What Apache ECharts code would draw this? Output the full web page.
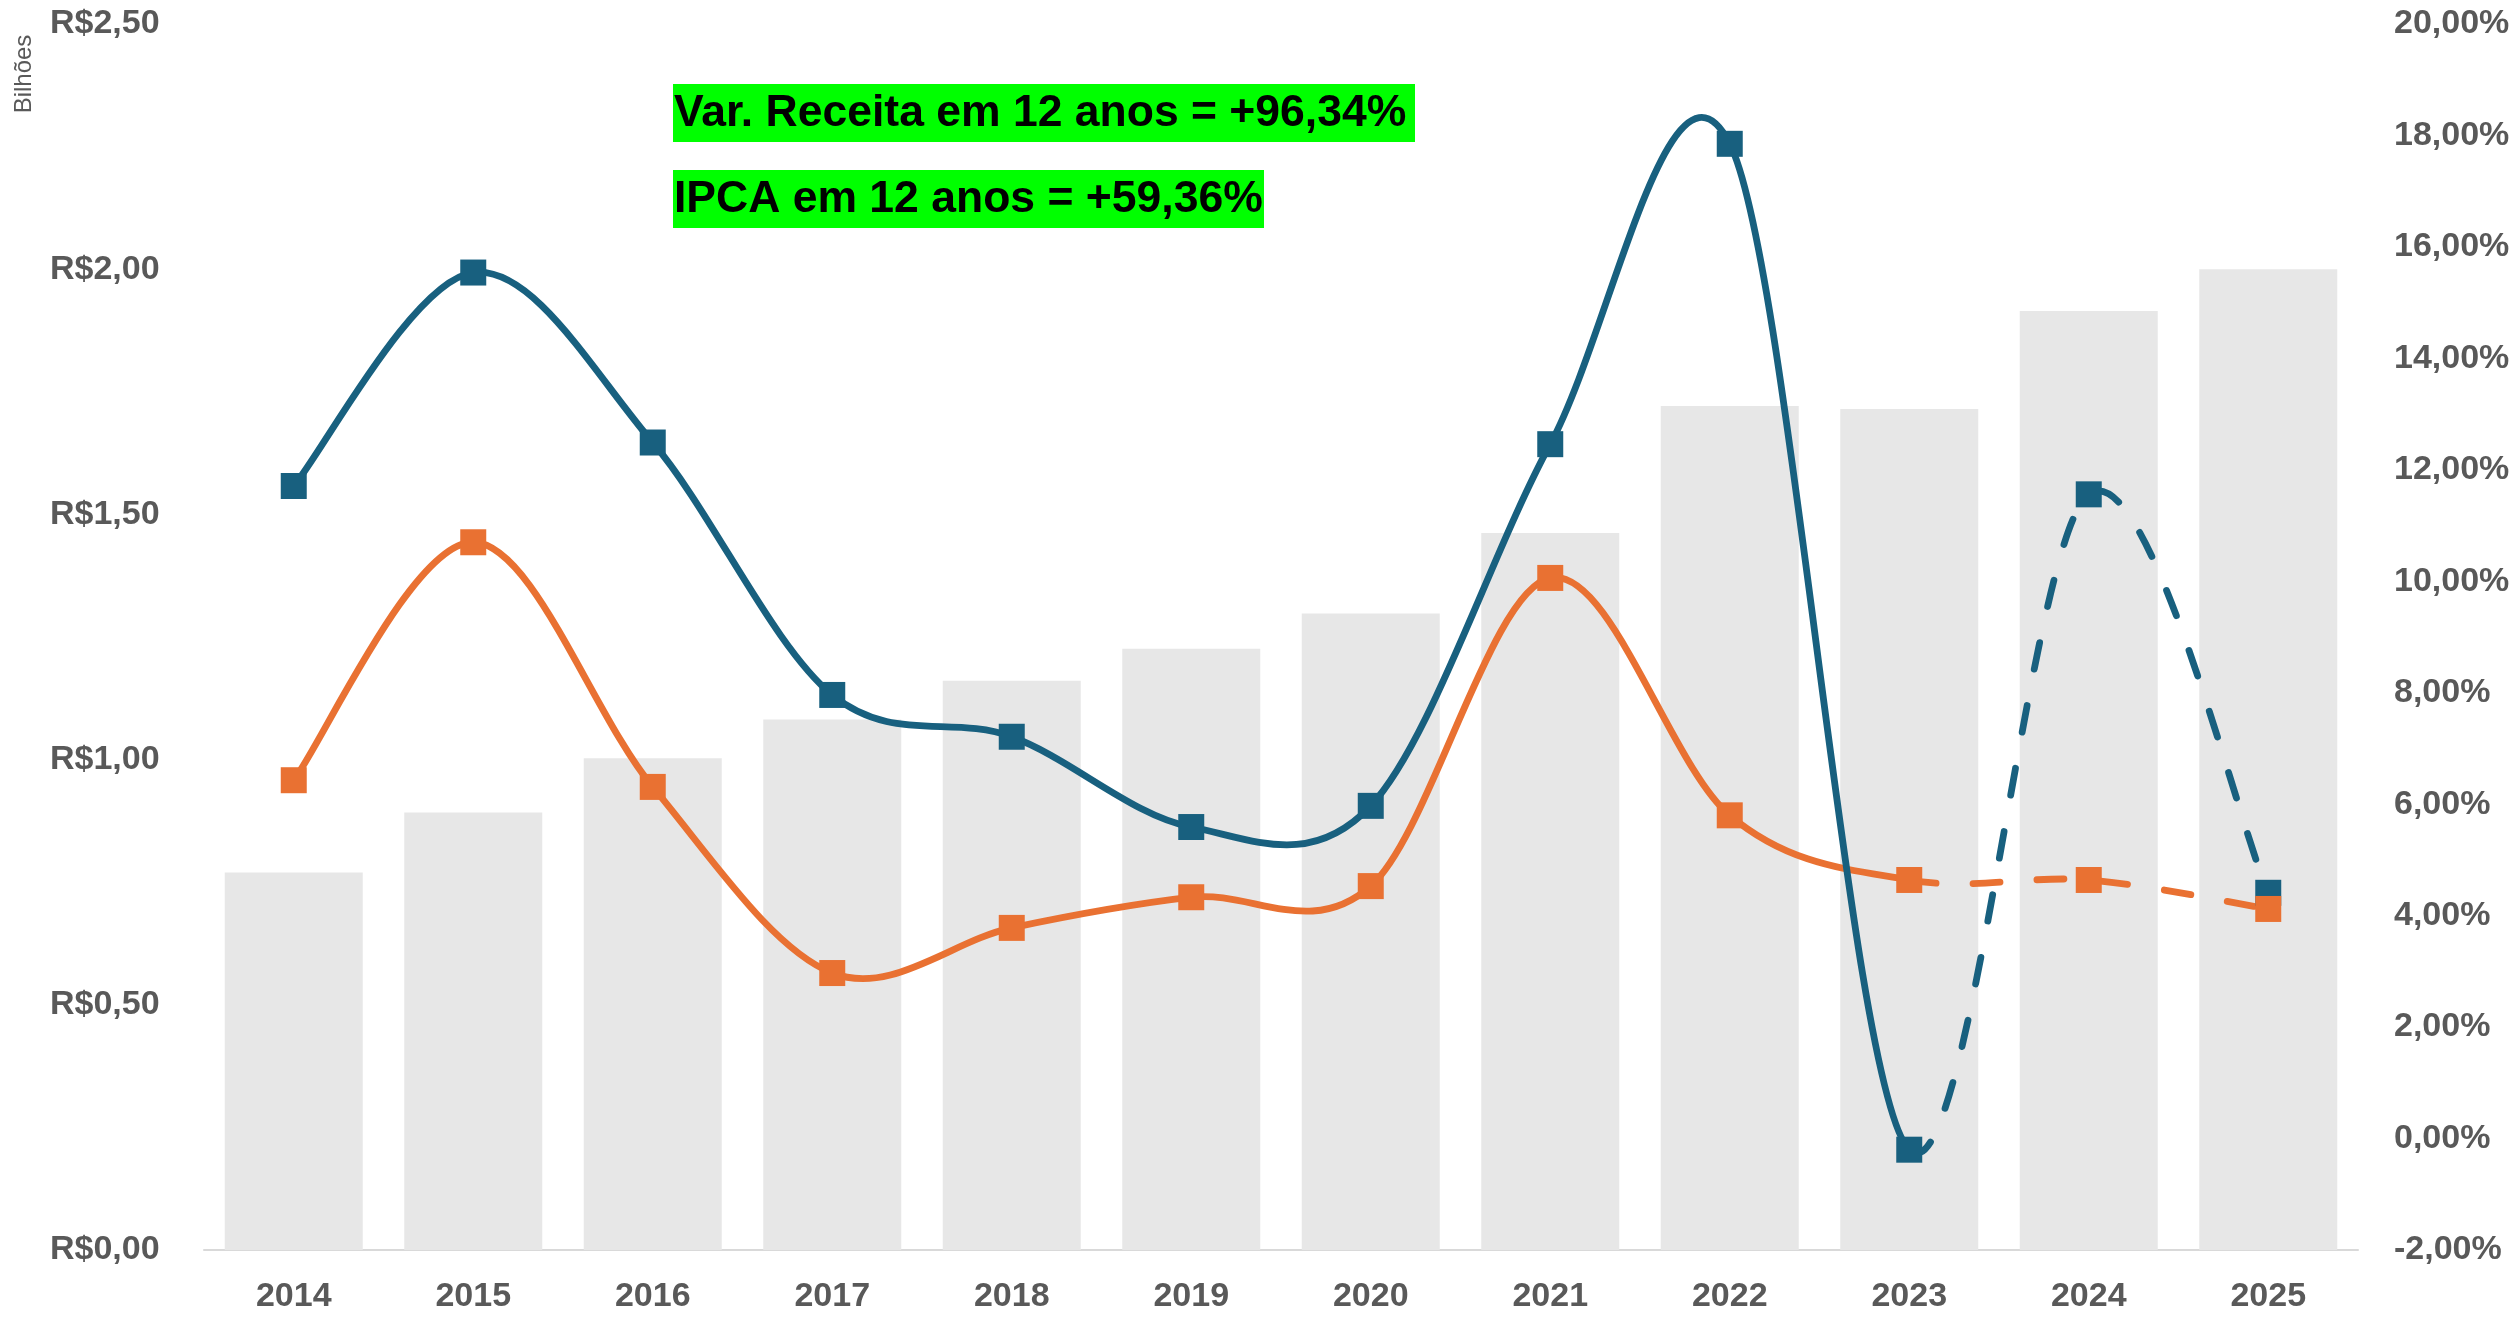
<!DOCTYPE html>
<html>
<head>
<meta charset="utf-8">
<script src="https://cdn.jsdelivr.net/npm/echarts@6/dist/echarts.min.js"></script>
<style>
  html, body { margin: 0; padding: 0; background: #fff; }
  #chart { width: 2519px; height: 1318px; }
</style>
</head>
<body>
<div id="chart"></div>
<script>
// anos
const anos = ["2014", "2015", "2016", "2017", "2018", "2019", "2020", "2021", "2022", "2023", "2024", "2025"];
// receita em bilhoes (eixo esquerdo)
const receita = [0.77, 0.892, 1.003, 1.082, 1.161, 1.226, 1.298, 1.462, 1.721, 1.715, 1.915, 2.0];
// variacao da receita, % (eixo direito)
const varReceita = [11.71, 15.54, 12.49, 7.96, 7.21, 5.59, 5.97, 12.46, 17.85, -0.2, 11.56, 4.41];
// IPCA, %
const ipca = [6.43, 10.70, 6.31, 2.97, 3.78, 4.33, 4.53, 10.06, 5.80, 4.64, 4.64, 4.12];
// a partir deste indice a linha fica tracejada
const inicioProjecao = 9;

const azul = "#18607f";
const laranja = "#e97132";
const cinza = "#595959";
const fonte = "'Liberation Sans', Arial, sans-serif";

// curva suavizada no estilo do Excel (catmull-rom, 1/6)
const caminho = (pts, de, ate) => {
  let d = "M" + pts[de][0] + "," + pts[de][1];
  for (let i = de; i < ate; i++) {
    const p0 = pts[Math.max(i - 1, 0)];
    const p1 = pts[i];
    const p2 = pts[i + 1];
    const p3 = pts[Math.min(i + 2, pts.length - 1)];
    const c1 = [p1[0] + (p2[0] - p0[0]) / 6, p1[1] + (p2[1] - p0[1]) / 6];
    const c2 = [p2[0] - (p3[0] - p1[0]) / 6, p2[1] - (p3[1] - p1[1]) / 6];
    d += " C" + c1[0] + "," + c1[1] + " " + c2[0] + "," + c2[1] + " " + p2[0] + "," + p2[1];
  }
  return d;
};

const curva = (nome, valores, cor, z) => ({
  name: nome,
  type: "custom",
  yAxisIndex: 1,
  data: [[0, valores[0]]],
  silent: true,
  clip: false,
  z: z,
  renderItem: (params, api) => {
    const pts = valores.map((v, i) => api.coord([i, v]));
    const ultimo = pts.length - 1;
    const estilo = { fill: "none", stroke: cor, lineWidth: 6.8, lineCap: "round", lineJoin: "round" };
    return {
      type: "group",
      children: [
        { type: "path", shape: { pathData: caminho(pts, 0, inicioProjecao) }, style: estilo },
        {
          type: "path",
          shape: { pathData: caminho(pts, inicioProjecao, ultimo) },
          style: Object.assign({}, estilo, { lineDash: [27, 37] }),
        },
      ],
    };
  },
});

const marcadores = (nome, valores, cor, z) => ({
  name: nome,
  type: "scatter",
  yAxisIndex: 1,
  data: valores,
  symbol: "rect",
  symbolSize: 26,
  itemStyle: { color: cor, opacity: 1 },
  z: z,
});

const chart = echarts.init(document.getElementById("chart"));
chart.setOption({
  animation: false,
  backgroundColor: "#fff",
  grid: { left: 204, right: 161, top: 24, bottom: 68 },
  xAxis: {
    type: "category",
    data: anos,
    axisLine: { lineStyle: { color: "#d9d9d9", width: 2 } },
    axisTick: { show: false },
    axisLabel: {
      color: cinza,
      fontSize: 34,
      fontWeight: "bold",
      fontFamily: fonte,
      margin: 30,
    },
  },
  yAxis: [
    {
      type: "value",
      min: 0,
      max: 2.5,
      interval: 0.5,
      splitLine: { show: false },
      axisLine: { show: false },
      axisTick: { show: false },
      axisLabel: {
        color: cinza,
        fontSize: 34,
        fontWeight: "bold",
        fontFamily: fonte,
        align: "left",
        margin: 154,
        formatter: (v) => "R$" + v.toFixed(2).replace(".", ","),
      },
    },
    {
      type: "value",
      min: -2,
      max: 20,
      interval: 2,
      splitLine: { show: false },
      axisLine: { show: false },
      axisTick: { show: false },
      axisLabel: {
        color: cinza,
        fontSize: 34,
        fontWeight: "bold",
        fontFamily: fonte,
        align: "left",
        margin: 36,
        formatter: (v) => v.toFixed(2).replace(".", ",") + "%",
      },
    },
  ],
  series: [
    {
      name: "Receita",
      type: "bar",
      data: receita,
      barWidth: 138,
      itemStyle: { color: "#e7e7e7" },
      z: 1,
    },
    curva("IPCA", ipca, laranja, 3),
    curva("Var. Receita", varReceita, azul, 4),
    marcadores("Var. Receita pts", varReceita, azul, 5),
    marcadores("IPCA pts", ipca, laranja, 6),
  ],
  graphic: [
    {
      type: "text",
      x: 24,
      y: 74,
      rotation: Math.PI / 2,
      style: {
        text: "Bilhões",
        fill: cinza,
        font: "24px " + fonte,
        align: "center",
        verticalAlign: "middle",
      },
    },
    {
      type: "rect",
      shape: { x: 673, y: 84, width: 742, height: 58 },
      style: { fill: "#00ff00" },
      z: 10,
    },
    {
      type: "text",
      x: 674,
      y: 114,
      style: {
        text: "Var. Receita em 12 anos = +96,34%",
        fill: "#000",
        font: "bold 44.5px " + fonte,
        verticalAlign: "middle",
      },
      z: 11,
    },
    {
      type: "rect",
      shape: { x: 673, y: 170, width: 591, height: 58 },
      style: { fill: "#00ff00" },
      z: 10,
    },
    {
      type: "text",
      x: 674,
      y: 200,
      style: {
        text: "IPCA em 12 anos = +59,36%",
        fill: "#000",
        font: "bold 44.5px " + fonte,
        verticalAlign: "middle",
      },
      z: 11,
    },
  ],
});
</script>
</body>
</html>
